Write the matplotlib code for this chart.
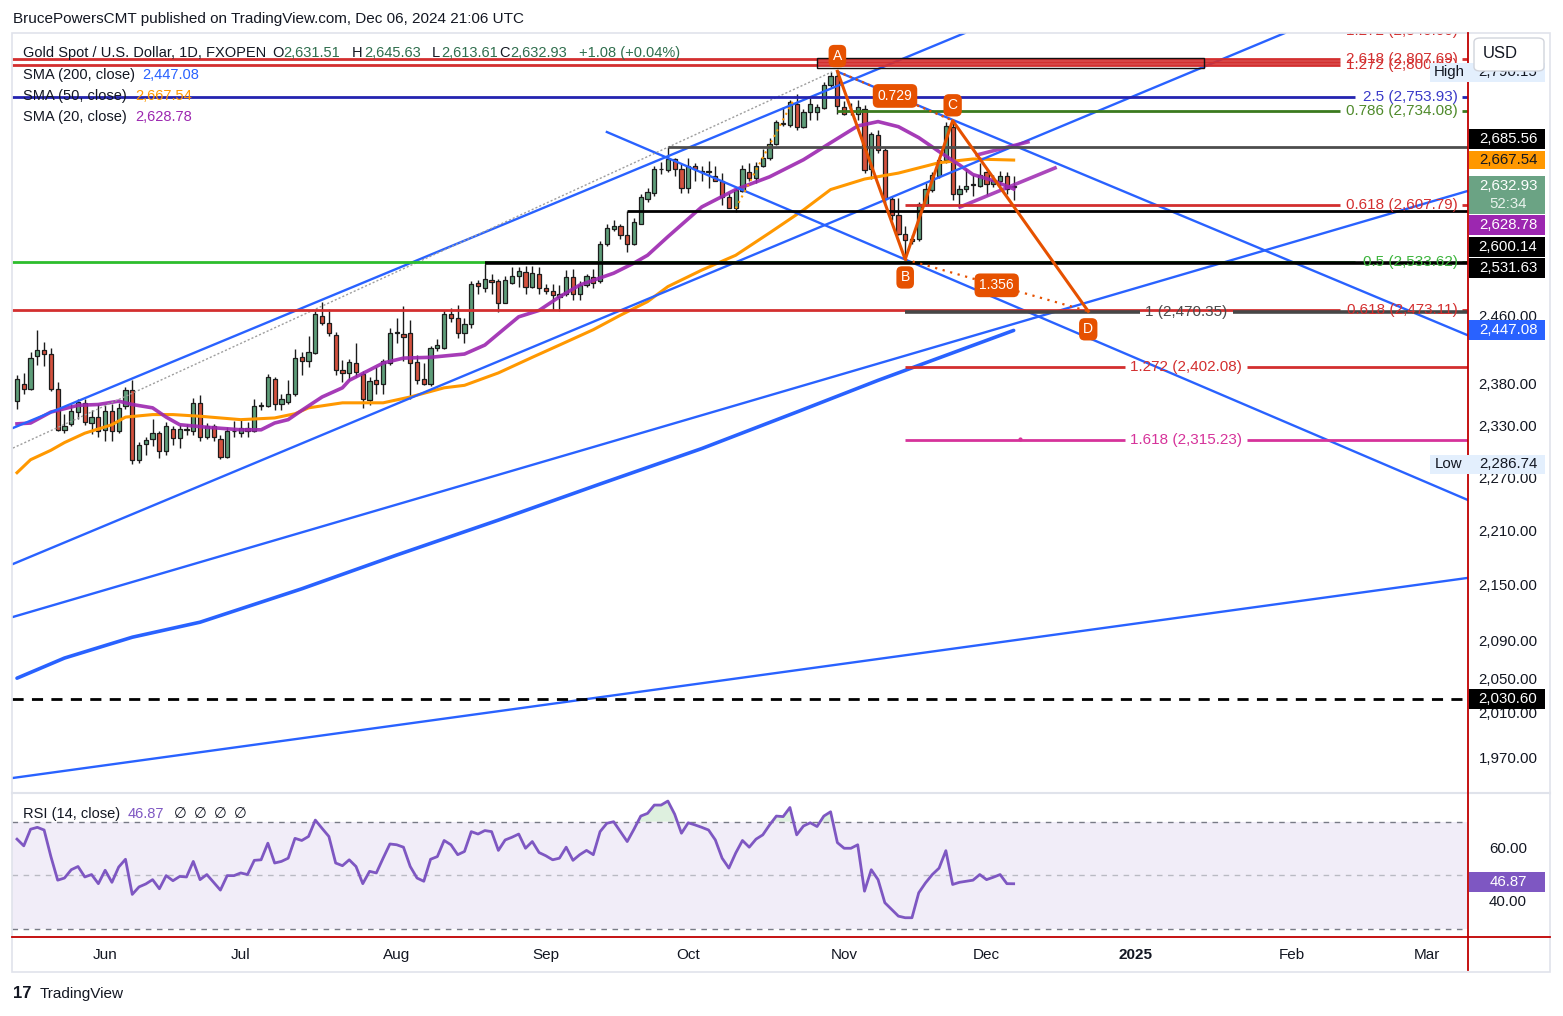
import numpy as np
import pandas as pd
import matplotlib
matplotlib.use("Agg")
import matplotlib.pyplot as plt
import matplotlib.transforms as mtransforms
from matplotlib.patches import Rectangle, FancyBboxPatch
from matplotlib.ticker import NullLocator

plt.rcParams["font.family"] = ["Liberation Sans", "DejaVu Sans"]

W, H = 1563, 1016

# ---------------- data ----------------
first_day = "2024-05-15"

opens = [2361, 2382, 2376, 2415, 2423, 2418, 2376, 2327, 2334, 2348,
         2359, 2335, 2342, 2327, 2349, 2325, 2355, 2374, 2292, 2310,
         2316, 2323, 2302, 2328, 2317, 2327, 2325, 2359, 2318, 2331,
         2316, 2295, 2325, 2323, 2329, 2326, 2355, 2355, 2388, 2357,
         2360, 2369, 2414, 2410, 2419, 2465, 2456, 2442, 2399, 2395,
         2407, 2394, 2362, 2386, 2381, 2407, 2444, 2443, 2444, 2408,
         2388, 2381, 2425, 2425, 2468, 2463, 2444, 2455, 2507, 2500,
         2510, 2509, 2481, 2507, 2516, 2521, 2501, 2518, 2500, 2497,
         2489, 2493, 2514, 2493, 2504, 2514, 2509, 2556, 2576, 2580,
         2568, 2556, 2583, 2616, 2624, 2656, 2654, 2669, 2655, 2630,
         2659, 2653, 2653, 2646, 2640, 2618, 2604, 2626, 2652, 2643,
         2660, 2670, 2690, 2718, 2716, 2745, 2713, 2733, 2733, 2739,
         2771, 2784, 2740, 2734, 2731, 2738, 2655, 2701, 2681, 2616,
         2595, 2570, 2563, 2563, 2608, 2627, 2646, 2667, 2713, 2622,
         2629, 2634, 2633, 2651, 2635, 2640, 2646, 2631.51]
highs = [2393, 2395, 2421, 2447, 2433, 2425, 2384, 2346, 2357, 2364,
         2364, 2350, 2357, 2356, 2357, 2359, 2378, 2386, 2313, 2319,
         2340, 2326, 2336, 2332, 2333, 2334, 2365, 2368, 2335, 2334,
         2321, 2330, 2337, 2338, 2336, 2364, 2360, 2394, 2390, 2370,
         2387, 2424, 2421, 2440, 2471, 2483, 2474, 2445, 2411, 2412,
         2431, 2397, 2390, 2402, 2412, 2450, 2462, 2477, 2460, 2417,
         2407, 2428, 2437, 2472, 2475, 2479, 2463, 2509, 2510, 2531,
         2518, 2512, 2516, 2527, 2527, 2528, 2528, 2527, 2505, 2505,
         2504, 2523, 2524, 2509, 2518, 2524, 2560, 2583, 2588, 2582,
         2600, 2590, 2622, 2630, 2660, 2665, 2685.56, 2671, 2662, 2670,
         2664, 2660, 2666, 2660, 2650, 2624, 2631, 2661, 2664, 2665,
         2683, 2698, 2722, 2740, 2750, 2758, 2737, 2752, 2745, 2775,
         2789, 2790.15, 2749, 2746, 2750, 2743, 2706, 2708, 2684, 2618,
         2617, 2580, 2568, 2612, 2637, 2652, 2672, 2719, 2721.4, 2634,
         2656, 2648, 2664, 2656, 2648, 2653, 2652, 2645.63]
lows = [2352, 2369, 2374, 2405, 2404, 2373, 2325, 2323, 2331, 2340,
        2333, 2322, 2318, 2314, 2314, 2323, 2352, 2287, 2288, 2297,
        2308, 2294, 2297, 2309, 2306, 2321, 2321, 2314, 2316, 2314,
        2293, 2294, 2318, 2318, 2318, 2324, 2351, 2354, 2351, 2350,
        2358, 2367, 2392, 2402, 2418, 2454, 2440, 2393, 2384, 2386,
        2390, 2353, 2356, 2370, 2370, 2405, 2431, 2409, 2364, 2382,
        2380, 2379, 2422, 2424, 2457, 2438, 2432, 2450, 2492, 2495,
        2493, 2470, 2481, 2505, 2502, 2492, 2500, 2493, 2493, 2472,
        2471, 2490, 2485, 2485, 2502, 2500, 2506, 2554, 2573, 2563,
        2546, 2555, 2582, 2612, 2620, 2649, 2652, 2646, 2624, 2624,
        2639, 2639, 2630, 2639, 2608, 2603, 2598, 2625, 2640, 2637,
        2658, 2668, 2688, 2714, 2712, 2708, 2711, 2722, 2722, 2737,
        2768, 2731, 2729, 2729, 2722, 2650, 2642, 2677, 2610, 2588,
        2568, 2536.7, 2556, 2560, 2606, 2625, 2644, 2664, 2614, 2605,
        2625, 2620, 2631, 2621, 2631, 2627, 2622, 2613.61]
closes = [2388, 2376, 2413, 2423, 2418, 2376, 2327, 2332, 2349, 2360,
          2336, 2342, 2325, 2349, 2325, 2353, 2374, 2292, 2309, 2315,
          2323, 2302, 2331, 2317, 2328, 2328, 2359, 2318, 2332, 2318,
          2295, 2325, 2326, 2329, 2326, 2355, 2356, 2390, 2357, 2363,
          2369, 2413, 2409, 2420, 2467, 2456, 2444, 2398, 2395, 2408,
          2396, 2363, 2385, 2381, 2409, 2444, 2445, 2439, 2407, 2387,
          2381, 2425, 2429, 2468, 2462, 2444, 2455, 2505, 2503, 2511,
          2508, 2481, 2510, 2516, 2522, 2501, 2519, 2500, 2496, 2491,
          2493, 2514, 2493, 2504, 2515, 2507, 2556, 2577, 2580, 2568,
          2557, 2585, 2618, 2625, 2655, 2655, 2669, 2655, 2630, 2659,
          2656, 2651, 2651, 2640, 2618, 2604, 2627, 2655, 2644, 2660,
          2671, 2690, 2719, 2717, 2747, 2713, 2733, 2745, 2740, 2771,
          2784, 2741, 2731, 2735, 2740, 2654, 2703, 2681, 2616, 2595,
          2570, 2562, 2560, 2609, 2629, 2648, 2667, 2714, 2622, 2629,
          2633, 2635, 2648, 2635, 2641, 2646, 2629, 2632.93]

sma20_bar = [0, 2, 5, 9, 12, 15, 17, 20, 22, 24, 28, 33, 36, 38, 40, 42, 45,
             48, 49, 54, 57, 61, 66, 69, 72, 74, 77, 80, 83, 88, 91, 93, 96,
             101, 106, 111, 116, 120, 124, 127, 130, 133, 136, 139, 141, 144, 147]
sma20_val = [2334, 2335, 2348, 2356, 2357, 2361, 2357, 2353, 2342, 2333, 2330,
             2327, 2327, 2335, 2339, 2350, 2366, 2377, 2386, 2407, 2413, 2414,
             2418, 2429, 2450, 2464, 2472, 2489, 2504, 2519, 2532, 2542, 2566,
             2605, 2628, 2645, 2668, 2691, 2714, 2720, 2713, 2698, 2679, 2661,
             2648, 2640, 2628.78]

sma50_bar = [0, 2, 5, 7, 10, 14, 16, 20, 23, 27, 33, 38, 41, 43, 48, 54, 58,
             63, 66, 71, 76, 80, 85, 89, 93, 96, 101, 106, 111, 116, 120, 125,
             130, 136, 141, 147]
sma50_val = [2277, 2292, 2303, 2312, 2323, 2333, 2342, 2345, 2345, 2343, 2339,
             2341, 2346, 2353, 2359, 2359, 2366, 2377, 2380, 2395, 2414, 2429,
             2448, 2466, 2483, 2502, 2523, 2542, 2571, 2601, 2628, 2642, 2650,
             2664, 2669, 2667.54]

sma200_bar = [0, 7, 17, 27, 42, 56, 71, 86, 101, 115, 127, 147]
sma200_val = [2052, 2073, 2095, 2111, 2147, 2184, 2223, 2264, 2305, 2348,
              2386, 2447.08]

rsi = [63.5, 61.0, 67.2, 67.9, 66.9, 57.0, 48.2, 49.0, 52.1, 53.3,
       49.4, 50.3, 46.9, 51.9, 47.4, 53.1, 56.0, 42.9, 45.7, 46.8,
       48.4, 45.0, 49.9, 48.0, 49.6, 49.4, 55.2, 48.4, 50.3, 47.4,
       44.5, 49.9, 49.9, 50.9, 50.3, 55.6, 55.8, 62.0, 54.6, 55.2,
       56.4, 63.8, 63.0, 64.5, 70.6, 67.5, 64.5, 54.6, 53.6, 55.8,
       53.3, 46.9, 51.5, 50.9, 56.4, 61.7, 61.4, 60.5, 53.3, 49.0,
       47.8, 56.0, 57.0, 63.0, 61.4, 57.7, 58.9, 66.3, 65.4, 66.7,
       66.3, 59.3, 63.2, 64.2, 65.4, 60.1, 62.6, 58.5, 57.3, 55.8,
       56.4, 60.5, 55.6, 57.7, 59.3, 57.7, 66.3, 69.4, 70.0, 66.3,
       62.6, 67.2, 72.1, 73.1, 76.2, 76.2, 77.7, 72.8, 65.7, 69.6,
       68.8, 67.9, 66.9, 63.2, 56.4, 52.7, 58.3, 63.0, 60.5, 63.5,
       65.1, 68.8, 72.1, 71.9, 75.3, 65.1, 68.4, 69.6, 68.2, 72.1,
       73.7, 62.2, 60.1, 60.1, 61.4, 44.1, 52.1, 48.4, 39.8, 37.3,
       34.8, 34.2, 34.2, 43.5, 47.2, 50.3, 52.7, 59.2, 46.6, 47.4,
       47.8, 48.2, 50.3, 48.4, 49.3, 50.3, 46.9, 46.87]

# ABCD pattern
pat_names = ["A", "B", "C", "D"]
pat_bars = [121, 131, 138, 158]
pat_prices = [2790.15, 2536.70, 2721.40, 2470.95]

# trend lines: (bar0, price0, bar1, price1)
blue_lines = [
    (-0.6, 2329.1, 139.8, 2844.8),
    (-0.6, 2174.1, 187.0, 2844.8),
    (87.0, 2705.7, 214.0, 2245.7),
    (121.1, 2789.3, 214.0, 2441.0),
    (-0.6, 2116.6, 214.0, 2626.2),
    (-0.6, 1950.9, 214.0, 2158.9),
]
gray_dotted = (-0.6, 2305.6, 120.2, 2789.3)
purple_lines = [(139.1, 2604.9, 153.1, 2656.9), (141.6, 2674.5, 149.1, 2692.1)]
orange_dotted = (106, 2603, 115, 2758)

# ---------------- layout helpers ----------------
X0, DX = 17.0, 6.78          # pixel of first bar, pixels per bar
RIGHT = 1468                 # pixel x of the price scale border


def bx(px):
    return (px - X0) / DX


def bar_px(b):
    return X0 + DX * b


def fx(x):
    return x / W


def fy(y):
    return 1 - y / H


fig = plt.figure(figsize=(W / 100, H / 100), dpi=100)
fig.patch.set_facecolor("white")

ax = fig.add_axes([fx(12), fy(793), (RIGHT - 12) / W, (793 - 33) / H])
ax2 = fig.add_axes([fx(12), fy(937), (RIGHT - 12) / W, (937 - 793) / H])
for a in (ax, ax2):
    a.set_xlim(bx(12), bx(RIGHT))
    a.set_xticks([])
    a.set_yticks([])
    for s in a.spines.values():
        s.set_visible(False)
    a.set_facecolor("white")

ax.set_yscale("log")
ax.set_ylim(1936.1, 2844.8)
ax.yaxis.set_minor_locator(NullLocator())
ax.yaxis.set_major_locator(NullLocator())
ax2.set_ylim(27.02, 80.70)

idx = np.arange(len(closes))
o = np.array(opens, float)
c = np.array(closes, float)
hi = np.array(highs, float)
lo = np.array(lows, float)

# ---------------- candles ----------------
up = c >= o
body_col = np.where(up, "#5e9d79", "#d4513e")
ax.vlines(idx, lo, hi, color="#1c1c1c", lw=1.0, zorder=3)
ax.bar(idx, np.maximum(np.abs(c - o), 0.4), bottom=np.minimum(o, c), width=0.62,
       color=body_col, edgecolor="#1c1c1c", linewidth=0.9, zorder=3.1)

# ---------------- moving averages ----------------
ax.plot(sma200_bar, sma200_val, color="#2962ff", lw=2.6, zorder=4, solid_capstyle="round")
ax.plot(sma50_bar, sma50_val, color="#ff9800", lw=2.2, zorder=4)
ax.plot(sma20_bar, sma20_val, color="#9c27b0", lw=2.6, zorder=4, alpha=0.9)

# ---------------- trend lines ----------------
for b0, p0, b1, p1 in blue_lines:
    ax.plot([b0, b1], [p0, p1], color="#2962ff", lw=1.7, zorder=5)
b0, p0, b1, p1 = gray_dotted
ax.plot([b0, b1], [p0, p1], color="#9e9e9e", lw=1.0, ls=(0, (1.5, 1.5)), zorder=5)
for b0, p0, b1, p1 in purple_lines:
    ax.plot([b0, b1], [p0, p1], color="#9c27b0", lw=2.6, zorder=5, alpha=0.85)
b0, p0, b1, p1 = orange_dotted
ax.plot([b0, b1], [p0, p1], color="#ff9800", lw=1.5, ls=(0, (1, 2)), zorder=5)


def price_px(p):
    return H - ax.transData.transform((0, p))[1]


# ---------------- horizontal levels ----------------
def hseg(price, px0, px1, color, lw=2.0, ls="-", z=5):
    ax.plot([bx(px0), bx(px1)], [price, price], color=color, lw=lw, ls=ls, zorder=z,
            solid_capstyle="butt")


red = "#d32f2f"
# top cluster
hseg(2807.69, 12, 1340, red)
hseg(2799.0, 12, 1340, red)
hseg(2803.2, bar_px(118), 1340, red)
hseg(2807.69, 1462, RIGHT, red)
hseg(2799.0, 1462, RIGHT, red)
ax.add_patch(Rectangle((bx(bar_px(118)), 2795.3), bx(1204) - bx(bar_px(118)), 14.2,
                       fill=False, ec="#111111", lw=1.0, zorder=5.5))
hseg(2753.93, 12, 1355, "#2424b0")
hseg(2753.93, 1462, RIGHT, "#2424b0")
hseg(2734.08, bar_px(121), 1340, "#3b7a1e")
hseg(2734.08, 1462, RIGHT, "#3b7a1e")
hseg(2685.56, bar_px(96), RIGHT, "#4d4d4d")
hseg(2607.79, bar_px(131), 1340, red)
hseg(2607.79, 1462, RIGHT, red)
hseg(2600.14, bar_px(90), RIGHT, "#000000")
hseg(2533.62, 12, 1355, "#2dbd2d")
hseg(2533.62, 1462, RIGHT, "#2dbd2d")
hseg(2531.63, bar_px(69), RIGHT, "#000000", lw=2.6)
hseg(2473.11, 12, 1340, red)
hseg(2473.11, 1462, RIGHT, red)
hseg(2470.35, bar_px(131), 1140, "#474747", lw=2.6)
hseg(2470.35, 1233, RIGHT, "#474747", lw=2.6)
hseg(2402.08, bar_px(131), 1125, red)
hseg(2402.08, 1247, RIGHT, red)
hseg(2315.23, bar_px(131), 1125, "#d6339a")
hseg(2315.23, 1247, RIGHT, "#d6339a")
ax.plot([bx(1020)], [2316.5], marker="o", ms=2, color="#d6339a", zorder=5)
hseg(2030.60, 12, RIGHT, "#000000", lw=2.0, ls=(0, (4, 3)))

# level labels
fs_lvl = 11
right_lbls = [(2807.69, "2.618 (2,807.69)", red, 0), (2799.0, "1.272 (2,800.97)", red, 0),
              (2753.93, "2.5 (2,753.93)", "#3a3ac8", 0), (2734.08, "0.786 (2,734.08)", "#4f8a2b", 0),
              (2607.79, "0.618 (2,607.79)", red, 0), (2533.62, "0.5 (2,533.62)", "#3cb43c", 0),
              (2473.11, "0.618 (2,473.11)", red, 0)]
for p, s, col, dy in right_lbls:
    fig.text(fx(1458), fy(price_px(p) + dy), s, color=col, fontsize=fs_lvl,
             ha="right", va="center", zorder=6)
ax.text(bx(1458), 2847, "1.272 (2,840.00)", color=red, fontsize=fs_lvl, ha="right",
        va="center", clip_on=True, zorder=6)
center_lbls = [(2470.35, "1 (2,470.35)", "#4a4a4a"), (2402.08, "1.272 (2,402.08)", red),
               (2315.23, "1.618 (2,315.23)", "#d6339a")]
for p, s, col in center_lbls:
    fig.text(fx(1186), fy(price_px(p)), s, color=col, fontsize=fs_lvl,
             ha="center", va="center")

# ---------------- ABCD pattern ----------------
orange = "#e65100"
ax.plot(pat_bars, pat_prices, color=orange, lw=2.2, zorder=6)
ax.plot([pat_bars[0], pat_bars[2]], [pat_prices[0], pat_prices[2]], color=orange,
        lw=1.6, ls=(0, (1, 2)), zorder=6)
ax.plot([pat_bars[1], pat_bars[3]], [pat_prices[1], pat_prices[3]], color=orange,
        lw=1.6, ls=(0, (1, 2.5)), zorder=6)
box = dict(boxstyle="round,pad=0.3,rounding_size=0.4", fc=orange, ec="none")
for k, (name, b, p) in enumerate(zip(pat_names, pat_bars, pat_prices)):
    off = 11 if k % 2 == 0 else -13
    ax.annotate(name, (b, p), xytext=(0, off), textcoords="offset points", ha="center",
                va="center", color="white", fontsize=10, bbox=box, zorder=7)
ratio_ac = (pat_prices[1] - pat_prices[2]) / (pat_prices[1] - pat_prices[0])
ratio_bd = (pat_prices[3] - pat_prices[2]) / (pat_prices[1] - pat_prices[2])
for (i0, i1), r in (((0, 2), ratio_ac), ((1, 3), ratio_bd)):
    mb = (pat_bars[i0] + pat_bars[i1]) / 2
    mp = np.sqrt(pat_prices[i0] * pat_prices[i1])
    ax.text(mb, mp, f"{r:.3f}", ha="center", va="center", color="white", fontsize=10,
            bbox=dict(boxstyle="round,pad=0.35,rounding_size=0.4", fc=orange, ec="none"),
            zorder=7)

# ---------------- RSI pane ----------------
rsi_a = np.array(rsi)
ax2.axhspan(30, 70, color="#7e57c2", alpha=0.10, lw=0)
ax2.fill_between(idx, rsi_a, 70, where=rsi_a > 70, interpolate=True, color="#4caf50",
                 alpha=0.18, lw=0)
ax2.axhline(70, color="#787b86", lw=1.0, ls=(0, (4, 4)))
ax2.axhline(30, color="#787b86", lw=1.0, ls=(0, (4, 4)))
ax2.axhline(50, color="#9598a1", lw=1.0, ls=(0, (4, 4)), alpha=0.6)
ax2.plot(idx, rsi_a, color="#7e57c2", lw=2.0, zorder=4)


# ---------------- frame and separators ----------------
def fig_line(x0, y0, x1, y1, color, lw=1.0):
    fig.add_artist(plt.Line2D([fx(x0), fx(x1)], [fy(y0), fy(y1)], color=color, lw=lw,
                              transform=fig.transFigure))


fig.add_artist(Rectangle((fx(12), fy(972)), (1550 - 12) / W, (972 - 33) / H, fill=False,
                         ec="#e0e3eb", lw=1.2, transform=fig.transFigure))
fig_line(12, 793, 1550, 793, "#e0e3eb", 1.5)
fig_line(12, 937, 1550, 937, "#c00000", 1.3)
fig_line(RIGHT, 33, RIGHT, 970, "#c00000", 1.3)

# ---------------- price scale ----------------
fs_ax = 10.8
for p in [2460, 2380, 2330, 2270, 2210, 2150, 2090, 2050, 2010, 1970]:
    dy = -3 if p == 2460 else (-5 if p == 2010 else 0)
    fig.text(fx(1508), fy(price_px(p) + dy), f"{p:,.2f}", fontsize=fs_ax, color="#131722",
             ha="center", va="center")


def scale_box(y, txt, fc, tc, h=20, txt2=None):
    fig.add_artist(Rectangle((fx(1469), fy(y + h / 2)), 76 / W, h / H, fc=fc, ec="none",
                             transform=fig.transFigure, zorder=8))
    if txt2 is None:
        fig.text(fx(1508), fy(y), txt, fontsize=fs_ax, color=tc, ha="center", va="center",
                 zorder=9)
    else:
        fig.text(fx(1508), fy(y - 9), txt, fontsize=fs_ax, color=tc, ha="center",
                 va="center", zorder=9)
        fig.text(fx(1508), fy(y + 9), txt2, fontsize=fs_ax, color="#e8f2ec", ha="center",
                 va="center", zorder=9)


# Low / High markers
for y, word, val in ((72, "High", "2,790.15"), (464, "Low", "2,286.74")):
    fig.add_artist(Rectangle((fx(1430), fy(y + 9.5)), 115 / W, 19 / H, fc="#e3effd",
                             ec="none", transform=fig.transFigure, zorder=8))
    fig.text(fx(1449), fy(y), word, fontsize=fs_ax, color="#131722", ha="center",
             va="center", zorder=9)
    fig.text(fx(1508), fy(y), val, fontsize=fs_ax, color="#131722", ha="center",
             va="center", zorder=9)

scale_box(price_px(2685.56) - 8, "2,685.56", "#000000", "white")
scale_box(price_px(2667.54), "2,667.54", "#ff9800", "#131722", h=18)
scale_box(price_px(2632.93) + 9, "2,632.93", "#6ba384", "white", h=38, txt2="52:34")
scale_box(price_px(2628.78) + 36, "2,628.78", "#9c27b0", "white")
scale_box(price_px(2600.14) + 36, "2,600.14", "#000000", "white")
scale_box(price_px(2531.63) + 5, "2,531.63", "#000000", "white")
scale_box(price_px(2447.08), "2,447.08", "#2962ff", "white")
scale_box(price_px(2030.60), "2,030.60", "#000000", "white")


# RSI scale
def rsi_px(v):
    return H - ax2.transData.transform((0, v))[1]


for v in (60, 40):
    fig.text(fx(1508), fy(rsi_px(v)), f"{v:.2f}", fontsize=fs_ax, color="#131722",
             ha="center", va="center")
scale_box(rsi_px(rsi[-1]) - 2, f"{rsi[-1]:.2f}", "#7e57c2", "white")

# USD button
fig.add_artist(FancyBboxPatch((fx(1474), fy(71)), 70 / W, 33 / H,
               boxstyle="round,pad=0,rounding_size=0.004", fc="white", ec="#d1d4dc",
               lw=1.0, transform=fig.transFigure, zorder=10))
fig.text(fx(1500), fy(54), "USD", fontsize=12, color="#131722", ha="center", va="center",
         zorder=11)

# ---------------- time scale ----------------
dates = pd.bdate_range(first_day, periods=int(bx(RIGHT)) + 1)
tr = mtransforms.blended_transform_factory(ax2.transData, fig.transFigure)
for k in range(1, len(dates)):
    if dates[k].month != dates[k - 1].month:
        if dates[k].month == 1:
            lbl, wt = str(dates[k].year), "bold"
        else:
            lbl, wt = dates[k].strftime("%b"), "normal"
        ax2.text(k, fy(955), lbl, transform=tr, fontsize=11, fontweight=wt,
                 color="#131722", ha="center", va="center", clip_on=False)

# ---------------- header / legends ----------------
dark = "#131722"
fig.text(fx(13), fy(19), "BrucePowersCMT published on TradingView.com, Dec 06, 2024 21:06 UTC",
         fontsize=11, color=dark, va="center")
valc = "#2f6e4d"
hdr = [(23, "Gold Spot / U.S. Dollar, 1D, FXOPEN", dark),
       (272, "O", dark), (283, "2,631.51", valc),
       (352, "H", dark), (364, "2,645.63", valc),
       (432, "L", dark), (441, "2,613.61", valc),
       (499, "C", dark), (510, "2,632.93", valc),
       (579, "+1.08 (+0.04%)", valc)]
for x, s, col in hdr:
    fig.text(fx(x), fy(53), s, fontsize=10.5, color=col, va="center", zorder=9)
legend = [(75, "SMA (200, close)", 142, "2,447.08", "#2962ff"),
          (96, "SMA (50, close)", 135, "2,667.54", "#ff9800"),
          (117, "SMA (20, close)", 135, "2,628.78", "#9c27b0")]
for y, s, xv, v, col in legend:
    fig.text(fx(23), fy(y), s, fontsize=10.5, color=dark, va="center", zorder=9)
    fig.text(fx(xv), fy(y), v, fontsize=10.5, color=col, va="center", zorder=9)

fig.text(fx(23), fy(814), "RSI (14, close)", fontsize=10.5, color=dark, va="center")
fig.text(fx(128), fy(814), f"{rsi[-1]:.2f}", fontsize=10.5, color="#7e57c2", va="center")
for x in (174, 194, 214, 234):
    fig.text(fx(x), fy(814), "\u2205", fontsize=10.5, color=dark, va="center")

# TradingView mark
fig.text(fx(13), fy(994), "17", fontsize=12, fontweight="bold", color=dark, va="center")
fig.text(fx(40), fy(994), "TradingView", fontsize=11, color=dark, va="center")

fig.savefig("out.png", dpi=100, facecolor="white")
